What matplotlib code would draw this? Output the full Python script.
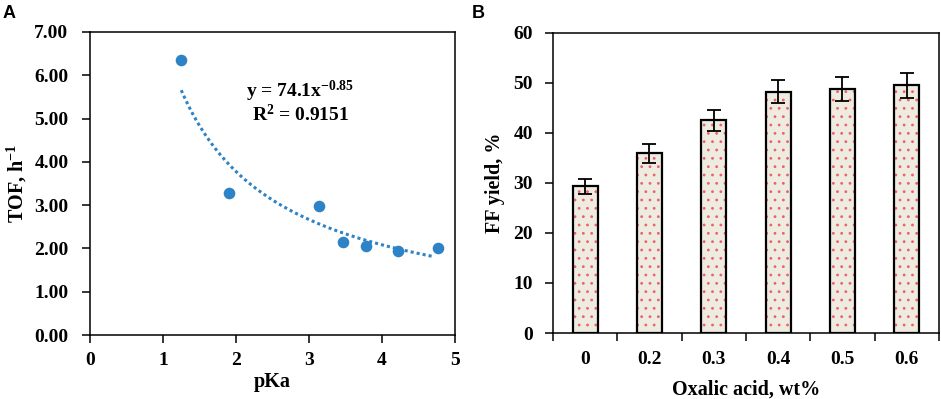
import matplotlib

matplotlib.use("Agg")
import matplotlib.pyplot as plt
import numpy as np

# panel A: TOF vs pKa
PKA = [1.25, 1.91, 3.14, 3.46, 3.78, 4.22, 4.76]
TOF = [6.35, 3.27, 2.97, 2.15, 2.05, 1.93, 2.00]

# panel B: FF yield vs oxalic acid loading
OXALIC_LABELS = ["0", "0.2", "0.3", "0.4", "0.5", "0.6"]
FF_YIELD = [29.3, 35.9, 42.5, 48.2, 48.8, 49.5]
FF_ERR = [1.45, 1.85, 2.15, 2.3, 2.4, 2.55]

BLUE = "#2E83C6"
SERIF = "Liberation Serif"

plt.rcParams.update({
    "font.family": SERIF,
    "font.weight": "bold",
    "axes.labelweight": "bold",
    "mathtext.fontset": "custom",
    "mathtext.rm": "Liberation Serif",
    "mathtext.it": "Liberation Serif:italic",
    "mathtext.bf": "Liberation Serif:bold",
    "axes.linewidth": 1.1,
    "hatch.linewidth": 0.8,
})

fig = plt.figure(figsize=(9.41, 3.99), dpi=100)
ax_a = fig.add_axes([0.0956, 0.1604, 0.388, 0.7594])
ax_b = fig.add_axes([0.5877, 0.1654, 0.410, 0.752])

# ---- panel A ----
ax_a.scatter(PKA, TOF, s=70, color=BLUE, zorder=3, linewidths=0)

# power-law trendline fitted to the points (log-log least squares)
slope, intercept = np.polyfit(np.log(PKA), np.log(TOF), 1)
x_fit = np.linspace(min(PKA), 4.68, 200)
ax_a.plot(x_fit, np.exp(intercept) * x_fit**slope, color=BLUE, lw=2.2,
          ls=(0, (1.0, 1.0)), dash_capstyle="butt", zorder=2)

ax_a.text(2.88, 5.62, r"y = 74.1x$^{{-}0.85}$", ha="center", va="center", fontsize=14)
ax_a.text(2.88, 5.1, r"R$^{2}$ = 0.9151", ha="center", va="center", fontsize=14)

ax_a.set_xlim(0, 5)
ax_a.set_ylim(0, 7)
ax_a.set_xticks(range(0, 6))
ax_a.set_yticks(np.arange(0, 7.01, 1.0))
ax_a.set_yticklabels([f"{v:.2f}" for v in np.arange(0, 7.01, 1.0)])
ax_a.tick_params(direction="out", length=5.5, width=1.1, labelsize=14, top=False, right=False)
ax_a.tick_params(axis="x", pad=7)
ax_a.tick_params(axis="y", pad=10)
ax_a.set_xlabel("pKa", fontsize=14.5, labelpad=2)
ax_a.set_ylabel(r"TOF, h$^{{-}1}$", fontsize=14.5, labelpad=4)

# ---- panel B ----
pos = np.arange(len(FF_YIELD))
ax_b.bar(pos, FF_YIELD, width=0.39, color="#EEEBE0", edgecolor="#F0606A", hatch="..",
         linewidth=0, zorder=2)
ax_b.bar(pos, FF_YIELD, width=0.39, fill=False, edgecolor="black", linewidth=1.6, zorder=3)
ax_b.errorbar(pos, FF_YIELD, yerr=FF_ERR, fmt="none", ecolor="black", elinewidth=1.3,
              capsize=5, capthick=1.3, zorder=4)

ax_b.set_xlim(-0.5, len(FF_YIELD) - 0.5)
ax_b.set_ylim(0, 60)
ax_b.set_yticks(range(0, 61, 10))
ax_b.set_xticks(pos)
ax_b.set_xticklabels(OXALIC_LABELS)
ax_b.set_xticks(np.arange(-0.5, len(FF_YIELD), 1.0), minor=True)
ax_b.tick_params(axis="x", which="major", length=0, pad=13, labelsize=14)
ax_b.tick_params(axis="x", which="minor", direction="out", length=5.5, width=1.1)
ax_b.tick_params(axis="y", direction="out", length=5.5, width=1.1, labelsize=14, pad=9)
ax_b.set_xlabel("Oxalic acid, wt%", fontsize=14.5, labelpad=8)
ax_b.set_ylabel("FF yield, %", fontsize=14.5, labelpad=6)

# panel letters
fig.text(0.003, 0.967, "A", fontsize=13, fontweight="bold", family="Liberation Sans", va="center")
fig.text(0.501, 0.967, "B", fontsize=13, fontweight="bold", family="Liberation Sans", va="center")

fig.savefig("out.png", dpi=100)
